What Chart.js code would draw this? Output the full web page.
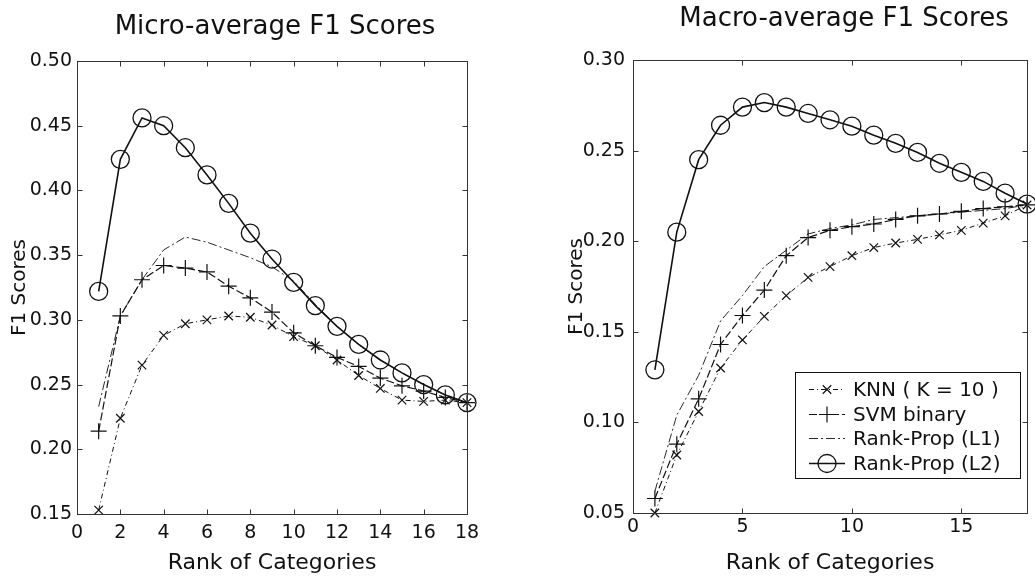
<!DOCTYPE html>
<html><head><meta charset="utf-8">
<script src="https://cdn.jsdelivr.net/npm/chart.js@4/dist/chart.umd.min.js"></script>
<style>
html,body{margin:0;padding:0;background:#fff;overflow:hidden;width:1035px;height:583px;}
#c1{position:absolute;left:0;top:0;}
#c2{position:absolute;left:517px;top:0;}
</style></head><body>
<canvas id="c1" width="517" height="583"></canvas>
<canvas id="c2" width="518" height="583"></canvas>
<script>
// ---- data ----
const ranks = [1,2,3,4,5,6,7,8,9,10,11,12,13,14,15,16,17,18];
const seriesNames = ['KNN ( K = 10 )', 'SVM binary', 'Rank-Prop (L1)', 'Rank-Prop (L2)'];

// Micro-average F1
const microKNN = [0.153,0.224,0.265,0.288,0.297,0.300,0.303,0.302,0.296,0.287,0.280,0.269,0.257,0.247,0.238,0.237,0.238,0.236];
const microSVM = [0.214,0.303,0.331,0.342,0.340,0.337,0.326,0.317,0.306,0.290,0.280,0.271,0.264,0.255,0.249,0.245,0.240,0.236];
const microL1  = [0.233,0.303,0.331,0.354,0.364,0.360,0.354,0.348,0.341,0.330,0.312,0.295,0.281,0.269,0.259,0.250,0.242,0.236];
const microL2  = [0.322,0.424,0.456,0.450,0.433,0.412,0.390,0.367,0.347,0.329,0.311,0.295,0.281,0.269,0.259,0.250,0.242,0.236];

// Macro-average F1
const macroKNN = [0.050,0.082,0.106,0.130,0.1455,0.1585,0.170,0.180,0.186,0.192,0.1965,0.199,0.201,0.2035,0.206,0.210,0.214,0.220];
const macroSVM = [0.058,0.088,0.113,0.143,0.159,0.173,0.192,0.202,0.206,0.208,0.2095,0.212,0.214,0.215,0.2165,0.218,0.219,0.220];
const macroL1  = [0.062,0.104,0.126,0.156,0.170,0.186,0.195,0.204,0.207,0.209,0.212,0.213,0.214,0.215,0.216,0.217,0.218,0.220];
const macroL2  = [0.129,0.205,0.245,0.264,0.274,0.2765,0.274,0.2705,0.267,0.2635,0.2585,0.254,0.249,0.243,0.238,0.233,0.2265,0.2205];

const microTitle = 'Micro-average F1 Scores';
const macroTitle = 'Macro-average F1 Scores';
const xTitle = 'Rank of Categories';
const yTitle = 'F1 Scores';

// ---- styling / plugins ----
const FONT = "'DejaVu Sans', 'Liberation Sans', sans-serif";
const INK = '#111';

const framePlugin = {
  id: 'frame',
  afterDraw(chart) {
    const {ctx, chartArea: a, scales} = chart;
    ctx.save();
    ctx.strokeStyle = '#333'; ctx.lineWidth = 1; ctx.setLineDash([]);
    const l = Math.round(a.left)+0.5, t = Math.round(a.top)+0.5, r = Math.round(a.right)+0.5, b = Math.round(a.bottom)+0.5;
    ctx.strokeRect(l, t, r-l, b-t);
    const L = 5;
    ctx.beginPath();
    scales.x.ticks.forEach(tk => {
      const px = Math.round(scales.x.getPixelForValue(tk.value))+0.5;
      ctx.moveTo(px,b); ctx.lineTo(px,b-L); ctx.moveTo(px,t); ctx.lineTo(px,t+L);
    });
    scales.y.ticks.forEach(tk => {
      const py = Math.round(scales.y.getPixelForValue(tk.value))+0.5;
      ctx.moveTo(l,py); ctx.lineTo(l+L,py); ctx.moveTo(r,py); ctx.lineTo(r-L,py);
    });
    ctx.stroke();
    ctx.restore();
  }
};

const titlePlugin = {
  id: 'plotTitle',
  afterDraw(chart, args, o) {
    if (!o || !o.text) return;
    const ctx = chart.ctx;
    ctx.save();
    ctx.fillStyle = INK;
    ctx.font = o.size + 'px ' + FONT;
    ctx.textAlign = 'center';
    ctx.textBaseline = 'alphabetic';
    ctx.fillText(o.text, o.x, o.y);
    ctx.restore();
  }
};

const legendPlugin = {
  id: 'boxLegend',
  afterDraw(chart, args, o) {
    if (!o || !o.display) return;
    const ctx = chart.ctx, a = chart.chartArea;
    const x1 = a.right - o.right, x0 = x1 - o.width, y1 = a.bottom - o.bottom, y0 = y1 - o.height;
    ctx.save();
    ctx.fillStyle = '#fff';
    ctx.fillRect(x0, y0, o.width, o.height);
    ctx.strokeStyle = INK; ctx.lineWidth = 1;
    ctx.strokeRect(Math.round(x0)+0.5, Math.round(y0)+0.5, o.width, o.height);
    chart.data.datasets.forEach((ds, i) => {
      const y = Math.round(y0 + o.firstRow + i*o.rowGap) + 0.5;
      const lx0 = x0 + o.lineStart, lx1 = lx0 + o.lineLen;
      ctx.strokeStyle = ds.borderColor; ctx.lineWidth = ds.borderWidth;
      ctx.setLineDash(ds.borderDash || []);
      ctx.beginPath(); ctx.moveTo(lx0, y); ctx.lineTo(lx1, y); ctx.stroke();
      ctx.setLineDash([]);
      if (ds.pointRadius > 0) {
        ctx.strokeStyle = ds.pointBorderColor; ctx.fillStyle = 'rgba(0,0,0,0)';
        ctx.lineWidth = ds.pointBorderWidth;
        Chart.helpers.drawPoint(ctx, {pointStyle: ds.pointStyle, radius: ds.pointRadius, borderWidth: ds.pointBorderWidth, rotation: 0}, (lx0+lx1)/2, y);
      }
      ctx.fillStyle = INK;
      ctx.font = o.size + 'px ' + FONT;
      ctx.textAlign = 'left'; ctx.textBaseline = 'middle';
      ctx.fillText(ds.label, x0 + o.textStart, y + 1);
    });
    ctx.restore();
  }
};

function pts(arr) { return ranks.map((r, i) => ({x: r, y: arr[i]})); }

function makeDatasets(knn, svm, l1, l2) {
  return [
    {label: seriesNames[0], data: pts(knn), borderColor: INK, borderWidth: 1, borderDash: [5,3,1,3],
     pointStyle: 'crossRot', pointRadius: 6, pointBorderWidth: 1.2, pointBorderColor: INK, pointBackgroundColor: 'rgba(0,0,0,0)', clip: false},
    {label: seriesNames[1], data: pts(svm), borderColor: INK, borderWidth: 1.2, borderDash: [8,3],
     pointStyle: 'cross', pointRadius: 8, pointBorderWidth: 1.2, pointBorderColor: INK, pointBackgroundColor: 'rgba(0,0,0,0)', clip: false},
    {label: seriesNames[2], data: pts(l1), borderColor: INK, borderWidth: 0.9, borderDash: [9,3,2,3],
     pointStyle: false, pointRadius: 0, pointBorderWidth: 0, pointBorderColor: INK, clip: false},
    {label: seriesNames[3], data: pts(l2), borderColor: INK, borderWidth: 1.6, borderDash: [],
     pointStyle: 'circle', pointRadius: 9, pointBorderWidth: 1.3, pointBorderColor: INK, pointBackgroundColor: 'rgba(0,0,0,0)', clip: false}
  ];
}

function makeChart(canvas, cfg) {
  return new Chart(canvas, {
    type: 'line',
    data: {datasets: makeDatasets(...cfg.series)},
    plugins: [framePlugin, titlePlugin, legendPlugin],
    options: {
      responsive: false,
      animation: false,
      devicePixelRatio: 1,
      elements: {line: {tension: 0, fill: false}},
      layout: {autoPadding: false, padding: cfg.padding},
      plugins: {
        legend: {display: false},
        tooltip: {enabled: false},
        title: {display: false},
        plotTitle: cfg.title,
        boxLegend: cfg.legend
      },
      scales: {
        x: {
          type: 'linear', min: 0, max: 18,
          grid: {display: false, drawTicks: false},
          border: {display: false},
          ticks: {stepSize: cfg.xStep, includeBounds: false, padding: cfg.xPad, color: INK, font: {family: FONT, size: 19}, maxRotation: 0, autoSkip: false},
          title: {display: true, text: xTitle, color: INK, font: {family: FONT, size: 22}, padding: {top: 0, bottom: 7}},
          afterFit: s => { s.height = cfg.xHeight; }
        },
        y: {
          type: 'linear', min: cfg.yMin, max: cfg.yMax,
          grid: {display: false, drawTicks: false},
          border: {display: false},
          ticks: {stepSize: 0.05, padding: cfg.yPad, color: INK, font: {family: FONT, size: 19},
                  callback: v => Number(v).toFixed(2)},
          title: {display: true, text: yTitle, color: INK, font: {family: FONT, size: 20}, padding: {top: cfg.yTitlePad, bottom: 0}},
          afterFit: s => { s.width = cfg.yWidth; }
        }
      }
    }
  });
}

makeChart(document.getElementById('c1'), {
  series: [microKNN, microSVM, microL1, microL2],
  padding: {left: 0, right: 50, top: 61, bottom: 0},
  title: {text: microTitle, x: 275, y: 33.5, size: 26},
  legend: {display: false},
  xStep: 2, xPad: 8, xHeight: 69,
  yMin: 0.15, yMax: 0.50, yPad: 5, yWidth: 77, yTitlePad: 8
});

makeChart(document.getElementById('c2'), {
  series: [macroKNN, macroSVM, macroL1, macroL2],
  padding: {left: 0, right: 8, top: 60, bottom: 0},
  title: {text: macroTitle, x: 327, y: 25.5, size: 26},
  legend: {display: true, right: 7, bottom: 35, width: 225, height: 106, firstRow: 17, rowGap: 24.7,
           lineStart: 14, lineLen: 36, textStart: 58, size: 20},
  xStep: 5, xPad: 3, xHeight: 70,
  yMin: 0.05, yMax: 0.30, yPad: 8, yWidth: 116, yTitlePad: 48
});
</script>
</body></html>
